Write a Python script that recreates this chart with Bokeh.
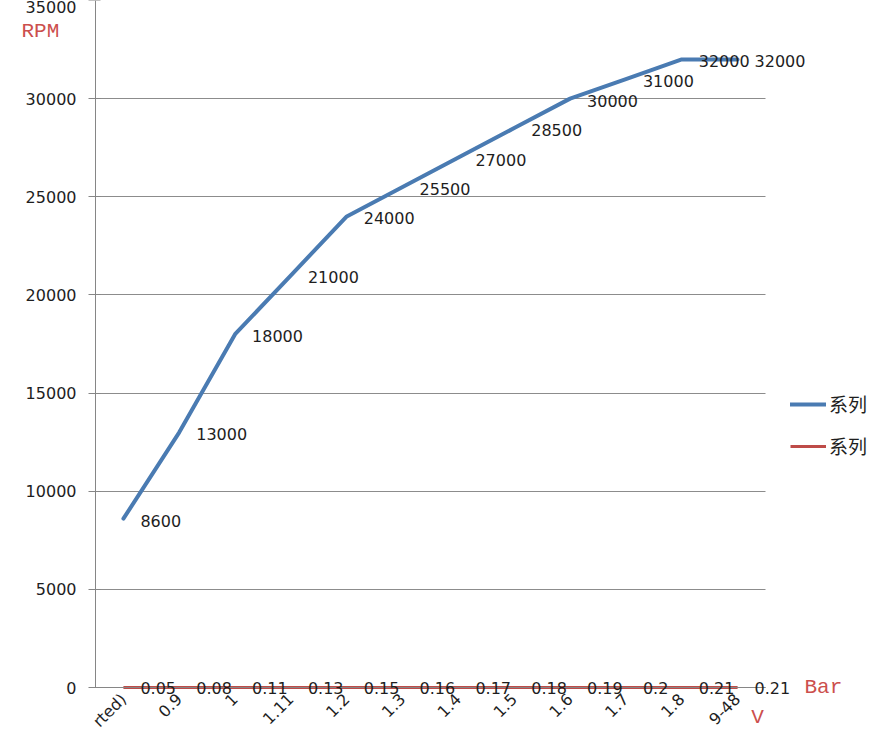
import math
from bokeh.plotting import figure
from bokeh.models import (ColumnDataSource, LabelSet, Label, Legend, LegendItem, LinearAxis, Grid,
                          Range1d, FixedTicker, NumeralTickFormatter)
from bokeh.core.properties import value
from bokeh.embed import file_html
from bokeh.resources import INLINE

# ---- data ----
categories = ["rted)", "0.9", "1", "1.11", "1.2", "1.3", "1.4", "1.5", "1.6", "1.7", "1.8", "9-48"]
rpm = [8600, 13000, 18000, 21000, 24000, 25500, 27000, 28500, 30000, 31000, 32000, 32000]
bar = [0.05, 0.08, 0.11, 0.13, 0.15, 0.16, 0.17, 0.18, 0.19, 0.2, 0.21, 0.21]
y_ticks = [0, 5000, 10000, 15000, 20000, 25000, 30000, 35000]
series_names = ["系列", "系列"]
y_unit = "RPM"
bar_unit = "Bar"
x_unit = "V"

# ---- geometry: the frame covers the whole canvas, axes are placed at fixed locations ----
W, H = 870, 729
PLOT_L, PLOT_R, PLOT_T, PLOT_B = 95, 765, 0, 687   # plot area in canvas pixels
n = len(categories)
CX0, CX1 = -0.5, n - 0.5
CY0, CY1 = 0, 35000
ppx = (PLOT_R - PLOT_L) / (CX1 - CX0)
ppy = (PLOT_B - PLOT_T) / (CY1 - CY0)
XS = CX0 - PLOT_L / ppx
XE = XS + W / ppx
YE = CY1 + PLOT_T / ppy
YS = YE - H / ppy

def dx(px):   # canvas px -> data x
    return XS + px / ppx

def dy(py):   # canvas py (from top) -> data y
    return YE - py / ppy

FONT = "DejaVu Sans"
BLUE = "#4a7bb2"
RED = "#be4b48"
TXT = "#1e1e1e"
TITLE_RED = "#cc4f4d"
AXIS_GRAY = "#868686"

xs = list(range(n))
src = ColumnDataSource(dict(
    x=xs, rpm=rpm, bar=bar,
    rpm_txt=[str(v) for v in rpm],
    bar_txt=[("%g" % v) for v in bar],
))

p = figure(width=W, height=H, output_backend="svg", toolbar_location=None,
           x_range=Range1d(XS, XE), y_range=Range1d(YS, YE),
           x_axis_location=None, y_axis_location=None)
p.min_border_left = p.min_border_right = p.min_border_top = p.min_border_bottom = 0
p.outline_line_color = None
p.background_fill_color = "white"
p.border_fill_color = "white"
p.grid.visible = False

# horizontal grid lines, only across the plot area
ygrid = Grid(dimension=1, ticker=FixedTicker(ticks=y_ticks), cross_bounds=(CX0, CX1),
             grid_line_color="#8c8c8c", grid_line_width=1)
p.add_layout(ygrid)

# y axis
yax = LinearAxis(fixed_location=CX0, bounds=(CY0, CY1), ticker=FixedTicker(ticks=y_ticks),
                 formatter=NumeralTickFormatter(format="0"))
yax.axis_line_color = AXIS_GRAY
yax.major_tick_line_color = AXIS_GRAY
yax.major_tick_out = 7
yax.major_tick_in = 5
yax.minor_tick_line_color = None
yax.major_label_standoff = 12
yax.major_label_text_font = FONT
yax.major_label_text_font_size = "16px"
yax.major_label_text_color = TXT
p.add_layout(yax, "left")

# x axis (category labels, rotated)
xax = LinearAxis(fixed_location=CY0, bounds=(CX0, CX1), ticker=FixedTicker(ticks=xs))
xax.major_label_overrides = {i: c for i, c in enumerate(categories)}
xax.major_label_orientation = math.pi / 4
xax.axis_line_color = AXIS_GRAY
xax.major_tick_line_color = None
xax.major_tick_out = 0
xax.major_tick_in = 0
xax.minor_tick_line_color = None
xax.major_label_standoff = 9
xax.major_label_text_font = FONT
xax.major_label_text_font_size = "16px"
xax.major_label_text_color = TXT
p.add_layout(xax, "below")

# lines
r_rpm = p.line("x", "rpm", source=src, line_color=BLUE, line_width=4, line_join="round", line_cap="round")
r_bar = p.line("x", "bar", source=src, line_color=RED, line_width=3, line_join="round")

# data labels
p.add_layout(LabelSet(x="x", y="rpm", text="rpm_txt", source=src, x_offset=17, y_offset=-2,
                      text_baseline="middle", text_align="left", text_font=value(FONT),
                      text_font_size="16px", text_color=TXT))
p.add_layout(LabelSet(x="x", y="bar", text="bar_txt", source=src, x_offset=17, y_offset=-1,
                      text_baseline="middle", text_align="left", text_font=value(FONT),
                      text_font_size="16px", text_color=TXT))

# unit titles
TFONT = "Liberation Mono"
p.add_layout(Label(x=dx(21), y=dy(31), text=y_unit, text_baseline="middle", text_align="left",
                   text_font=TFONT, text_font_size="21px", text_color=TITLE_RED))
p.add_layout(Label(x=dx(804), y=dy(687), text=bar_unit, text_baseline="middle", text_align="left",
                   text_font=TFONT, text_font_size="21px", text_color=TITLE_RED))
p.add_layout(Label(x=dx(757), y=dy(728), text=x_unit, text_baseline="bottom", text_align="center",
                   text_font=TFONT, text_font_size="21px", text_color=TITLE_RED))

# legend (to the right of the plot area)
legend = Legend(items=[LegendItem(label=series_names[0], renderers=[r_rpm]),
                       LegendItem(label=series_names[1], renderers=[r_bar])],
                location=(790, H - 459), orientation="vertical",
                glyph_width=36, glyph_height=20, label_height=20, spacing=15,
                padding=0, margin=0, label_standoff=3,
                border_line_color=None, background_fill_alpha=0,
                label_text_font="Noto Sans CJK SC", label_text_font_size="19px",
                label_text_color=TXT)
p.add_layout(legend)

open("out.html", "w").write(file_html(p, INLINE))
